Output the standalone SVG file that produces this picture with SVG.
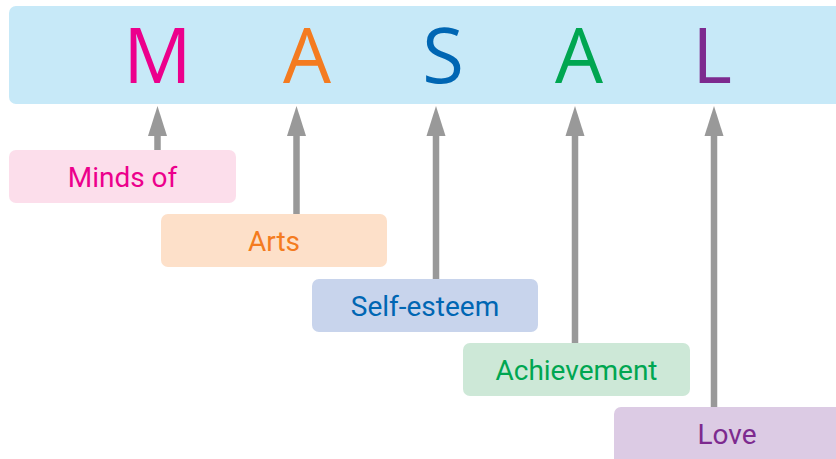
<svg xmlns="http://www.w3.org/2000/svg" width="836" height="459" viewBox="0 0 836 459">
<style>
.big{font-family:"Open Sans","DejaVu Sans",sans-serif;font-size:76px;text-anchor:middle}
.lbl{font-family:Roboto,"Liberation Sans",sans-serif;font-size:28px;text-anchor:middle}
.conn{stroke:#999999;stroke-width:6.5;fill:none}
.head{fill:#999999}
</style>
<g id="header">
<rect x="9" y="6" width="840" height="98" rx="7" fill="#c7e9f8"/>
<text class="big" x="157.5" y="83" fill="#ec008c">M</text>
<text class="big" x="307" y="83" fill="#f47b20">A</text>
<text class="big" x="443" y="83" fill="#0066b3">S</text>
<text class="big" x="579" y="83" fill="#00a651">A</text>
<text class="big" x="712" y="83" fill="#7d2a8f">L</text>
</g>
<g id="connectors">
<line class="conn" x1="157.5" y1="150" x2="157.5" y2="134"/>
<path class="head" d="M157.5 106 L167 136 L148 136 Z"/>
<line class="conn" x1="296.5" y1="214" x2="296.5" y2="134"/>
<path class="head" d="M296.5 106 L306 136 L287 136 Z"/>
<line class="conn" x1="436" y1="279" x2="436" y2="134"/>
<path class="head" d="M436 106 L445.5 136 L426.5 136 Z"/>
<line class="conn" x1="575" y1="343" x2="575" y2="134"/>
<path class="head" d="M575 106 L584.5 136 L565.5 136 Z"/>
<line class="conn" x1="714" y1="407" x2="714" y2="134"/>
<path class="head" d="M714 106 L723.5 136 L704.5 136 Z"/>
</g>
<g id="minds">
<rect x="9" y="150" width="227" height="53" rx="7" fill="#fcdeeb"/>
<text class="lbl" x="122.5" y="187" fill="#ec008c">Minds of</text>
</g>
<g id="arts">
<rect x="161" y="214" width="226" height="53" rx="7" fill="#fde0c9"/>
<text class="lbl" x="274" y="251" fill="#f47b20">Arts</text>
</g>
<g id="selfesteem">
<rect x="312" y="279" width="226" height="53" rx="7" fill="#c8d4ec"/>
<text class="lbl" x="425" y="316" fill="#0066b3">Self-esteem</text>
</g>
<g id="achievement">
<rect x="463" y="343" width="227" height="53" rx="7" fill="#cde8d7"/>
<text class="lbl" x="576.5" y="380" fill="#00a651">Achievement</text>
</g>
<g id="love">
<rect x="614" y="407" width="240" height="60" rx="7" fill="#dccbe4"/>
<text class="lbl" x="727" y="444" fill="#7d2a8f">Love</text>
</g>
</svg>
